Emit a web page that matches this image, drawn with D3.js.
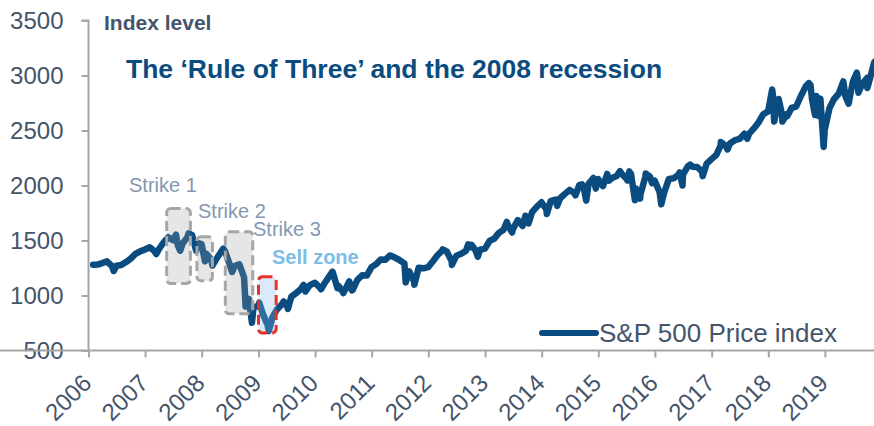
<!DOCTYPE html>
<html>
<head>
<meta charset="utf-8">
<script src="https://cdn.jsdelivr.net/npm/d3@7"></script>
<style>
  body { margin: 0; background: #fff; }
  text { font-family: "Liberation Sans", Arial, sans-serif; }
</style>
</head>
<body>
<svg id="chart"></svg>
<script>
// S&P 500 month-end closes, Jan 2006 onwards
const monthlyClose = [
  1280, 1281, 1295, 1311, 1270, 1270, 1277, 1304, 1336, 1378, 1401, 1418, // 2006
  1438, 1407, 1421, 1482, 1531, 1503, 1455, 1474, 1527, 1549, 1481, 1468, // 2007
  1379, 1331, 1323, 1386, 1400, 1280, 1267, 1283, 1166, 969, 896, 903,    // 2008
  826, 735, 798, 873, 919, 919, 987, 1021, 1057, 1036, 1096, 1115,        // 2009
  1074, 1104, 1169, 1187, 1089, 1031, 1102, 1049, 1141, 1183, 1181, 1258, // 2010
  1286, 1327, 1326, 1364, 1345, 1321, 1292, 1219, 1131, 1253, 1247, 1258, // 2011
  1312, 1366, 1408, 1398, 1310, 1362, 1379, 1407, 1441, 1412, 1416, 1426, // 2012
  1498, 1515, 1569, 1598, 1631, 1606, 1686, 1633, 1682, 1757, 1806, 1848, // 2013
  1783, 1859, 1872, 1884, 1924, 1960, 1931, 2003, 1972, 2018, 2068, 2059, // 2014
  1995, 2105, 2068, 2086, 2107, 2063, 2104, 1972, 1920, 2079, 2080, 2044, // 2015
  1940, 1932, 2060, 2065, 2097, 2099, 2174, 2171, 2168, 2126, 2199, 2239, // 2016
  2279, 2364, 2363, 2384, 2412, 2423, 2470, 2472, 2519, 2575, 2648, 2674, // 2017
  2824, 2714, 2641, 2648, 2705, 2718, 2816, 2902, 2914, 2712, 2760, 2507, // 2018
  2704, 2784, 2834, 2946, 2752, 2942, 2980, 2926, 2977, 3038, 3141        // 2019
];

// intra-month highs and lows
const swingDates = [
  "2006-06-13", "2007-03-14", "2007-07-19", "2007-08-15", "2007-10-09", "2007-11-26",
  "2008-01-22", "2008-03-10", "2008-05-19", "2008-07-15", "2008-10-10", "2008-11-20",
  "2009-01-06", "2009-03-09", "2009-06-12", "2009-07-10", "2009-10-19", "2009-11-02",
  "2010-02-08", "2010-04-23", "2010-05-25", "2010-07-02", "2010-08-09", "2010-08-26",
  "2011-04-29", "2011-08-08", "2011-10-03", "2012-04-02", "2012-06-01", "2012-09-14",
  "2012-10-05", "2012-11-15", "2013-05-21", "2013-06-24", "2013-09-18", "2013-10-08",
  "2014-02-03", "2014-04-11", "2014-08-07", "2014-09-18", "2014-10-15", "2014-12-16",
  "2015-03-10", "2015-05-21", "2015-07-08", "2015-07-20", "2015-08-25", "2015-09-28",
  "2015-11-03", "2015-12-14", "2016-02-11", "2016-06-08", "2016-06-27", "2016-08-15",
  "2016-11-04", "2017-03-01", "2017-04-13", "2017-08-18", "2018-01-26", "2018-02-08",
  "2018-03-09", "2018-04-02", "2018-05-03", "2018-09-20", "2018-10-10", "2018-10-29",
  "2018-11-07", "2018-11-23", "2018-12-03", "2018-12-24", "2019-05-13", "2019-06-03",
  "2019-07-26", "2019-08-05", "2019-10-02", "2019-11-15"
];
const swingValues = [
  1223, 1377, 1553, 1407, 1565, 1407,
  1310, 1273, 1426, 1214, 899, 752,
  935, 677, 946, 879, 1097, 1042,
  1056, 1217, 1067, 1022, 1128, 1047,
  1364, 1119, 1099, 1419, 1278, 1466,
  1461, 1353, 1669, 1573, 1725, 1655,
  1741, 1815, 1910, 2011, 1862, 1972,
  2044, 2131, 2046, 2128, 1867, 1881,
  2109, 2021, 1829, 2119, 2000, 2190,
  2085, 2396, 2328, 2425, 2873, 2581,
  2786, 2582, 2629, 2931, 2785, 2641,
  2813, 2633, 2790, 2351, 2812, 2744,
  3026, 2844, 2887, 3120
];

// highlighted zones
const zoneNames = ["Strike 1", "Strike 2", "Strike 3", "Sell zone"];
const zoneStart = ["2007-05-20", "2007-12-01", "2008-06-01", "2009-01-01"];
const zoneEnd = ["2007-10-20", "2008-03-10", "2008-11-25", "2009-04-25"];
const zoneTop = [1790, 1535, 1580, 1170];
const zoneBottom = [1110, 1135, 835, 660];

const yTicks = [500, 1000, 1500, 2000, 2500, 3000, 3500];
const xYears = d3.range(2006, 2020);

const width = 874;
const height = 426;

const parse = d3.timeParse("%Y-%m-%d");

const data = monthlyClose.map((v, i) => ({ date: new Date(2006, i + 1, 0), value: v }))
  .concat(swingDates.map((d, i) => ({ date: parse(d), value: swingValues[i] })))
  .sort((a, b) => a.date - b.date);

const svg = d3.select("#chart")
  .attr("width", width)
  .attr("height", height);

const x = d3.scaleTime()
  .domain([new Date(2006, 0, 1), new Date(2020, 0, 1)])
  .range([88.5, 881.5]);

const y = d3.scaleLinear()
  .domain([500, 3500])
  .range([350.5, 20.5]);

const textColor = "#44546A";
const axisColor = "#A6A6A6";

// the price line
svg.append("path")
  .datum(data)
  .attr("fill", "none")
  .attr("stroke", "#0B4C80")
  .attr("stroke-width", 6.5)
  .attr("stroke-linejoin", "round")
  .attr("stroke-linecap", "round")
  .attr("d", d3.line().x(d => x(d.date)).y(d => y(d.value)));

// strike boxes, see-through so the line shows
const zones = zoneNames.map((n, i) => ({
  name: n, start: parse(zoneStart[i]), end: parse(zoneEnd[i]), top: zoneTop[i], bottom: zoneBottom[i]
}));

svg.selectAll("rect.zone")
  .data(zones)
  .enter()
  .append("rect")
  .attr("class", "zone")
  .attr("x", d => x(d.start))
  .attr("y", d => y(d.top))
  .attr("width", d => x(d.end) - x(d.start))
  .attr("height", d => y(d.bottom) - y(d.top))
  .attr("rx", 4)
  .attr("fill", d => d.name === "Sell zone" ? "rgba(130,190,235,0.3)" : "rgba(155,155,155,0.25)")
  .attr("stroke", d => d.name === "Sell zone" ? "#E8302A" : "#A6A6A6")
  .attr("stroke-width", 3)
  .attr("stroke-dasharray", "10,5");

// zone labels
const labelPos = [[129, 192], [198, 218], [253, 236], [272, 264]];
svg.selectAll("text.zone")
  .data(zones)
  .enter()
  .append("text")
  .attr("class", "zone")
  .attr("x", (d, i) => labelPos[i][0])
  .attr("y", (d, i) => labelPos[i][1])
  .attr("font-size", 20)
  .attr("font-weight", d => d.name === "Sell zone" ? "bold" : "normal")
  .attr("fill", d => d.name === "Sell zone" ? "#7DBDE6" : "#8497B0")
  .text(d => d.name);

// axes
const yAxis = svg.append("g")
  .attr("transform", "translate(88.5,0)")
  .call(d3.axisLeft(y).tickValues(yTicks).tickSize(7).tickPadding(18).tickFormat(d3.format("d")));

const xAxis = svg.append("g")
  .attr("transform", "translate(0,350.5)")
  .call(d3.axisBottom(x).tickValues(xYears.map(yr => new Date(yr, 0, 1))).tickSize(7).tickFormat(d3.timeFormat("%Y")));

[yAxis, xAxis].forEach(g => {
  g.select(".domain").attr("stroke", axisColor).attr("stroke-width", 2);
  g.selectAll(".tick line").attr("stroke", axisColor).attr("stroke-width", 2);
  g.selectAll("text").attr("fill", textColor).attr("font-size", 24)
    .attr("font-family", "Liberation Sans, Arial, sans-serif");
});

yAxis.select(".domain").attr("d", "M-7,20.5H0V350.5");
xAxis.select(".domain").attr("d", "M0,0H874");

xAxis.selectAll("text")
  .attr("text-anchor", "end")
  .attr("x", 0)
  .attr("y", 0)
  .attr("dy", 0)
  .attr("transform", "translate(4,34) rotate(-45)");

// axis title and chart title
svg.append("text")
  .attr("x", 104)
  .attr("y", 30)
  .attr("font-size", 21)
  .attr("font-weight", "bold")
  .attr("fill", textColor)
  .text("Index level");

svg.append("text")
  .attr("x", 126)
  .attr("y", 78)
  .attr("font-size", 26.5)
  .attr("font-weight", "bold")
  .attr("fill", "#0B4C80")
  .text("The \u2018Rule of Three\u2019 and the 2008 recession");

// legend
svg.append("line")
  .attr("x1", 542).attr("x2", 596)
  .attr("y1", 333).attr("y2", 333)
  .attr("stroke", "#0B4C80")
  .attr("stroke-width", 6)
  .attr("stroke-linecap", "round");

svg.append("text")
  .attr("x", 599)
  .attr("y", 342)
  .attr("font-size", 26)
  .attr("fill", textColor)
  .text("S&P 500 Price index");
</script>
</body>
</html>
